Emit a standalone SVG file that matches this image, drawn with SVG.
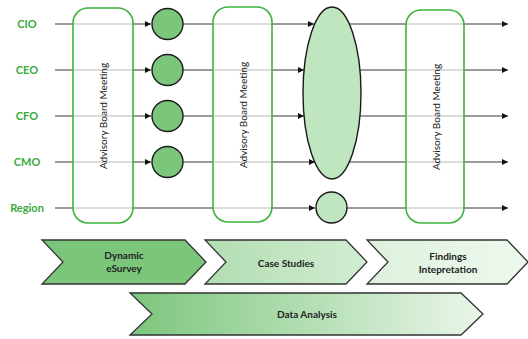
<svg xmlns="http://www.w3.org/2000/svg" width="528" height="339" viewBox="0 0 528 339">
<defs>
<marker id="ah" viewBox="0 0 10 10" refX="10" refY="5" markerWidth="6" markerHeight="6" markerUnits="userSpaceOnUse" orient="auto">
<path d="M0,0 L10,5 L0,10 Z" fill="#111"/>
</marker>
<linearGradient id="g2" x1="0" y1="0" x2="1" y2="0">
<stop offset="0" stop-color="#B2DDB2"/>
<stop offset="1" stop-color="#D2EDD2"/>
</linearGradient>
<linearGradient id="g3" x1="0" y1="0" x2="1" y2="0">
<stop offset="0" stop-color="#DDF1DD"/>
<stop offset="1" stop-color="#EEF8EE"/>
</linearGradient>
<linearGradient id="g4" x1="0" y1="0" x2="1" y2="0">
<stop offset="0" stop-color="#7CC67C"/>
<stop offset="1" stop-color="#EAF6EA"/>
</linearGradient>
<style>
.lbl{font-family:Lato,"Open Sans","Liberation Sans",sans-serif;font-weight:bold;font-size:11px;fill:#3AAA3A;text-anchor:middle}
.ln{stroke:#7a7a7a;stroke-width:1.4;fill:none;marker-end:url(#ah)}
.ln2{stroke:#7a7a7a;stroke-width:1.4;fill:none}
.meet{fill:#fff;fill-opacity:0.65;stroke:#3DB33D;stroke-width:1.6}
.mt{font-family:Lato,"Open Sans","Liberation Sans",sans-serif;font-size:10px;fill:#222;text-anchor:middle}
.dot{fill:#7CC67C;stroke:#1a1a1a;stroke-width:1.4}
.lt{fill:#C0E6C0;stroke:#1a1a1a;stroke-width:1.4}
.chev{stroke:#333;stroke-width:1.3}
.ct{font-family:Lato,"Open Sans","Liberation Sans",sans-serif;font-weight:bold;font-size:10px;fill:#222;text-anchor:middle}
</style>
</defs>
<rect width="528" height="339" fill="#fff"/>
<g id="labels">
<text class="lbl" x="27" y="28">CIO</text>
<text class="lbl" x="27" y="74">CEO</text>
<text class="lbl" x="27" y="120">CFO</text>
<text class="lbl" x="27" y="166">CMO</text>
<text class="lbl" x="27" y="212">Region</text>
</g>
<g id="connectors">
<line class="ln" x1="55" y1="24" x2="151" y2="24"/>
<line class="ln" x1="55" y1="70" x2="151" y2="70"/>
<line class="ln" x1="55" y1="116" x2="151" y2="116"/>
<line class="ln" x1="55" y1="162" x2="151" y2="162"/>
<line class="ln" x1="55" y1="208" x2="315" y2="208"/>
<line class="ln" x1="183" y1="24" x2="314" y2="24"/>
<line class="ln" x1="183" y1="70" x2="304" y2="70"/>
<line class="ln" x1="183" y1="116" x2="304" y2="116"/>
<line class="ln" x1="183" y1="162" x2="315" y2="162"/>
<line class="ln" x1="349" y1="24" x2="508" y2="24"/>
<line class="ln" x1="360" y1="70" x2="508" y2="70"/>
<line class="ln" x1="360" y1="116" x2="508" y2="116"/>
<line class="ln" x1="349" y1="162" x2="508" y2="162"/>
<line class="ln" x1="347" y1="208" x2="508" y2="208"/>
</g>
<g id="meeting1">
<rect class="meet" x="73" y="8" width="60" height="215" rx="15"/>
<text class="mt" transform="translate(107,116) rotate(-90)">Advisory Board Meeting</text>
</g>
<g id="meeting2">
<rect class="meet" x="213" y="7" width="59" height="215" rx="15"/>
<text class="mt" transform="translate(246.5,115) rotate(-90)">Advisory Board Meeting</text>
</g>
<g id="meeting3">
<rect class="meet" x="406" y="10" width="58" height="213" rx="15"/>
<text class="mt" transform="translate(439.5,117) rotate(-90)">Advisory Board Meeting</text>
</g>
<g id="dot-cio"><circle class="dot" cx="167.5" cy="24" r="15.5"/></g>
<g id="dot-ceo"><circle class="dot" cx="167.5" cy="70" r="15.5"/></g>
<g id="dot-cfo"><circle class="dot" cx="167.5" cy="116" r="15.5"/></g>
<g id="dot-cmo"><circle class="dot" cx="167.5" cy="162" r="15.5"/></g>
<g id="ellipse"><ellipse class="lt" cx="332" cy="93" rx="29" ry="86"/></g>
<g id="dot-region"><circle class="lt" cx="331.5" cy="207.5" r="15.5"/></g>
<g id="chev-survey">
<path class="chev" d="M42,240 L185,240 L206,262 L185,284 L42,284 L63,262 Z" fill="#7CC67C"/>
<text class="ct" x="124" y="259">Dynamic</text>
<text class="ct" x="124" y="272">eSurvey</text>
</g>
<g id="chev-case">
<path class="chev" d="M205,240 L346,240 L367,262 L346,284 L205,284 L226,262 Z" fill="url(#g2)"/>
<text class="ct" x="286" y="267">Case Studies</text>
</g>
<g id="chev-findings">
<path class="chev" d="M367,240 L507,240 L528,262 L507,284 L367,284 L388,262 Z" fill="url(#g3)"/>
<text class="ct" x="448" y="260">Findings</text>
<text class="ct" x="448" y="273">Intepretation</text>
</g>
<g id="chev-analysis">
<path class="chev" d="M130,293 L461,293 L483,314 L461,335 L130,335 L152,314 Z" fill="url(#g4)"/>
<text class="ct" x="307" y="318">Data Analysis</text>
</g>
</svg>
